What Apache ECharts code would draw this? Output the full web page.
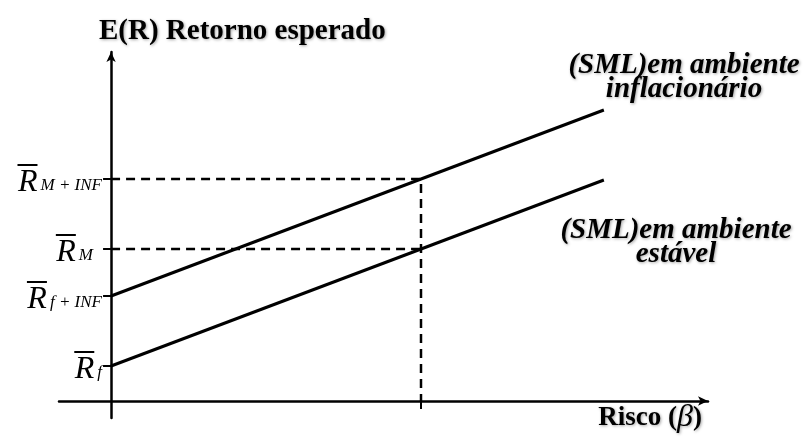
<!DOCTYPE html>
<html>
<head>
<meta charset="utf-8">
<script src="https://cdn.jsdelivr.net/npm/echarts@6/dist/echarts.min.js"></script>
<style>
  html, body { margin: 0; padding: 0; background: #fff; }
  #chart { width: 807px; height: 437px; }
</style>
</head>
<body>
<div id="chart"></div>
<script>
// beta (x) and expected return (y)
const betaEnds = [0, 1.59]
const smlStable = [3.5, 22.1]
const smlInflation = [10.5, 29.1]
const betaMarket = 1
const rMarket = 15.2
const rMarketInf = 22.2

const yTickValues = [3.5, 10.5, 15.2, 22.2]
const yTickSubs = ['f', 'f + INF', 'M', 'M + INF']
const xTickValues = [1]

const serif = '"Liberation Serif", "Times New Roman", serif'
const shadow = { textShadowColor: 'rgba(0,0,0,0.35)', textShadowBlur: 3, textShadowOffsetX: 1, textShadowOffsetY: 1 }

const chart = echarts.init(document.getElementById('chart'))

function yLabel(value) {
  const i = yTickValues.indexOf(value)
  const sub = yTickSubs[i] ?? ''
  const gap = sub === 'M' ? '{gap| }' : ''
  return `{bar| }{ghost|${sub}}${gap}\n{r|R}{sub|${sub}}${gap}`
}

chart.setOption({
  backgroundColor: '#fff',
  animation: false,
  grid: { left: 59, right: 99, top: 52, bottom: 19, outerBoundsMode: 'none' },
  title: [
    {
      text: 'E(R) Retorno esperado',
      left: 94,
      top: 12,
      textStyle: { fontFamily: serif, fontWeight: 'bold', fontSize: 29, color: '#000', ...shadow },
    },
    {
      text: '(SML)em ambiente\ninflacionário',
      left: 679,
      top: 49,
      textAlign: 'center',
      textStyle: { fontFamily: serif, fontWeight: 'bold', fontStyle: 'italic', fontSize: 29, lineHeight: 24, color: '#000', ...shadow },
    },
    {
      text: '(SML)em ambiente\nestável',
      left: 671,
      top: 214,
      textAlign: 'center',
      textStyle: { fontFamily: serif, fontWeight: 'bold', fontStyle: 'italic', fontSize: 29, lineHeight: 24, color: '#000', ...shadow },
    },
    {
      text: 'Risco ({b|β})',
      right: 100,
      top: 397,
      textStyle: {
        fontFamily: serif, fontWeight: 'bold', fontSize: 27, color: '#000', ...shadow,
        rich: { b: { fontFamily: serif, fontStyle: 'italic', fontWeight: 'normal', fontSize: 32, color: '#000' } },
      },
    },
  ],
  xAxis: {
    type: 'value',
    min: -0.168,
    max: 1.926,
    splitLine: { show: false },
    axisLine: {
      show: true,
      onZero: true,
      symbol: ['none', 'arrow'],
      symbolSize: [7, 10],
      lineStyle: { color: '#000', width: 2.5 },
    },
    axisTick: { show: true, customValues: xTickValues, length: 8, lineStyle: { color: '#000', width: 2 } },
    axisLabel: { show: false },
  },
  yAxis: {
    type: 'value',
    min: -1.7,
    max: 34.9,
    splitLine: { show: false },
    axisLine: {
      show: true,
      onZero: true,
      symbol: ['none', 'arrow'],
      symbolSize: [7, 10],
      lineStyle: { color: '#000', width: 2.5 },
    },
    axisTick: { show: true, customValues: yTickValues, length: 8, lineStyle: { color: '#000', width: 2 } },
    axisLabel: {
      show: true,
      customValues: yTickValues,
      // labels are laid out from the grid edge, not from the zero line
      margin: -43,
      align: 'right',
      formatter: yLabel,
      rich: {
        bar: { width: 20, height: 2, lineHeight: 2, fontSize: 2, backgroundColor: '#000', color: 'transparent' },
        ghost: { fontFamily: serif, fontStyle: 'italic', fontSize: 17, lineHeight: 2, padding: [0, 0, 0, 3], color: 'transparent' },
        gap: { width: 9, lineHeight: 2, fontSize: 2, color: 'transparent' },
        r: { fontFamily: serif, fontStyle: 'italic', fontSize: 32, lineHeight: 28, padding: [5, 0, 0, 0], color: '#000' },
        sub: { fontFamily: serif, fontStyle: 'italic', fontSize: 17, lineHeight: 28, padding: [5, 0, 0, 3], verticalAlign: 'bottom', color: '#000' },
      },
    },
  },
  series: [
    {
      name: 'SML estável',
      type: 'line',
      symbol: 'none',
      lineStyle: { color: '#000', width: 3 },
      data: betaEnds.map((b, i) => [b, smlStable[i]]),
    },
    {
      name: 'SML inflacionário',
      type: 'line',
      symbol: 'none',
      lineStyle: { color: '#000', width: 3 },
      data: betaEnds.map((b, i) => [b, smlInflation[i]]),
    },
    {
      name: 'R_M',
      type: 'line',
      symbol: 'none',
      lineStyle: { color: '#000', width: 2.5, type: [9, 6] },
      data: [[0, rMarket], [betaMarket, rMarket]],
    },
    {
      name: 'R_M+INF',
      type: 'line',
      symbol: 'none',
      lineStyle: { color: '#000', width: 2.5, type: [9, 6] },
      data: [[0, rMarketInf], [betaMarket, rMarketInf], [betaMarket, 0]],
    },
  ],
})
</script>
</body>
</html>
